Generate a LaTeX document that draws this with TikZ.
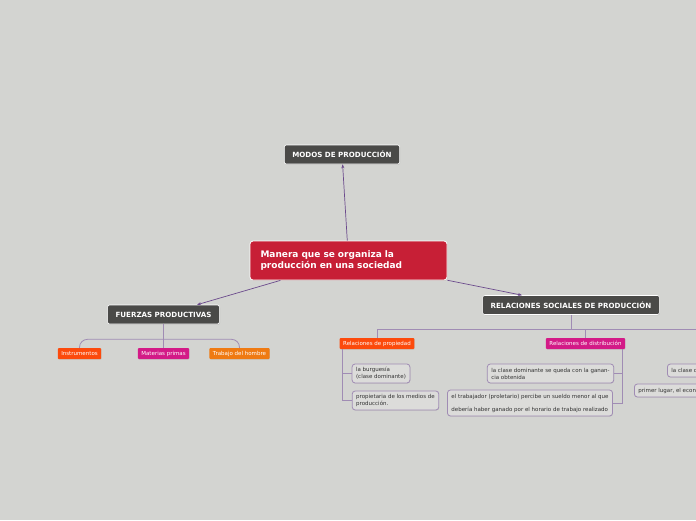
\documentclass[tikz,border=0pt]{standalone}
\usepackage{fontspec}
\setmainfont{DejaVu Sans}
\usepackage{xcolor}
\usepackage{tikz}
\usetikzlibrary{arrows.meta,positioning,calc,shadows}
\definecolor{canvas}{HTML}{D3D4D1}
\definecolor{rootred}{HTML}{C71F36}
\definecolor{darknode}{HTML}{4A4A48}
\definecolor{redorange}{HTML}{FC4A0C}
\definecolor{magenta}{HTML}{D31A87}
\definecolor{orangetag}{HTML}{EF7A12}
\definecolor{arrowpurple}{HTML}{6B4A8C}
\definecolor{treeline}{HTML}{A08CB4}
\definecolor{leaffill}{HTML}{DCDCDA}

\begin{document}
\begin{tikzpicture}[x=1pt, y=-1pt,
  root/.style={draw=white, line width=0.8pt, rounded corners=3pt, fill=rootred, text=white,
    font=\fontsize{9}{11}\selectfont\bfseries, align=left, text width=176pt,
    inner xsep=10.5pt, minimum height=39pt, drop shadow={opacity=0.25, shadow xshift=0.6pt, shadow yshift=-0.8pt}},
  topic/.style={draw=white, line width=0.6pt, rounded corners=2pt, fill=darknode, text=white,
    font=\fontsize{7.1}{8}\selectfont\bfseries, inner xsep=8pt, inner ysep=0pt, minimum height=19pt,
    drop shadow={opacity=0.25, shadow xshift=0.6pt, shadow yshift=-0.8pt}},
  tag/.style={rounded corners=1pt, text=white, font=\fontsize{5.5}{6}\selectfont,
    inner xsep=3.5pt, inner ysep=0pt, minimum height=11pt,
    drop shadow={opacity=0.2, shadow xshift=0.4pt, shadow yshift=-0.6pt}},
  leaf/.style={draw=treeline, line width=0.8pt, rounded corners=3pt, fill=leaffill, text=black!80,
    font=\fontsize{5.5}{7}\selectfont, align=left, inner xsep=4pt, inner ysep=2.5pt, minimum height=19pt,
    drop shadow={opacity=0.2, shadow xshift=0.4pt, shadow yshift=-0.6pt}},
  arr/.style={-{Stealth[length=4pt, width=3pt]}, line width=0.7pt, arrowpurple},
  tree/.style={line width=0.8pt, treeline}
]
  \fill[canvas] (0,0) rectangle (696,520);
  \useasboundingbox (0,0) rectangle (696,520);
  \clip (0,0) rectangle (696,520);

  \node[root] (main) at (348.5,260.5) {Manera que se organiza la\\producción en una sociedad};
  \node[topic] (modos) at (342,154.5) {MODOS DE PRODUCCIÓN};
  \node[topic] (fuerzas) at (163.5,314.5) {FUERZAS PRODUCTIVAS};
  \node[topic] (relsoc) at (571,305) {RELACIONES SOCIALES DE PRODUCCIÓN};

  \node[tag, fill=redorange] (instr) at (79.5,353.5) {Instrumentos};
  \node[tag, fill=magenta] (materias) at (163.5,353.5) {Materias primas};
  \node[tag, fill=orangetag] (trabajo) at (239.5,353.5) {Trabajo del hombre};

  \node[tag, fill=redorange] (propiedad) at (377,343.5) {Relaciones de propiedad};
  \node[tag, fill=magenta] (distrib) at (585.5,343.5) {Relaciones de distribución};

  \node[leaf] (burguesia) at (381,373.5) {la burguesía\\(clase dominante)};
  \node[leaf] (propietaria) at (395.5,400.5) {propietaria de los medios de\\producción.};
  \node[leaf] (ganancia) at (550.5,373.5) {la clase dominante se queda con la ganan-\\cia obtenida};
  \node[leaf, minimum height=26pt] (sueldo) at (530,403) {el trabajador (proletario) percibe un sueldo menor al que\\[6pt]debería haber ganado por el horario de trabajo realizado};
  \node[leaf, anchor=west, minimum height=13pt, inner ysep=1pt] (clased) at (667,370.5) {la clase dominante};
  \node[leaf, anchor=west, minimum height=13pt, inner ysep=1pt] (primer) at (634,390.5) {primer lugar, el económico};

  \coordinate (fz-bus) at ($(fuerzas.south)+(0,15)$);
  \coordinate (rs-bus) at ($(relsoc.south)+(0,14)$);
  \coordinate (rs-far) at (720,329);

  \draw[arr] (main) -- (modos);
  \draw[arr] (main) -- (fuerzas);
  \draw[arr] (main) -- (relsoc);

  \draw[tree] (fuerzas.south) -- (materias.north);
  \draw[tree, rounded corners=8pt] (instr.north) |- (fz-bus) -| (trabajo.north);

  \draw[tree] (relsoc.south) -- (rs-bus);
  \draw[tree] (propiedad.north) |- (rs-far);
  \draw[tree] (distrib.north) -- (distrib.north |- rs-bus);

  \draw[tree] ([xshift=3pt]propiedad.south west) |- (burguesia.west);
  \draw[tree] ([xshift=3pt]propiedad.south west) |- (propietaria.west);
  \draw[tree] ([xshift=-3pt]distrib.south east) |- (ganancia.east);
  \draw[tree] ([xshift=-3pt]distrib.south east) |- (sueldo.east);
\end{tikzpicture}
\end{document}
